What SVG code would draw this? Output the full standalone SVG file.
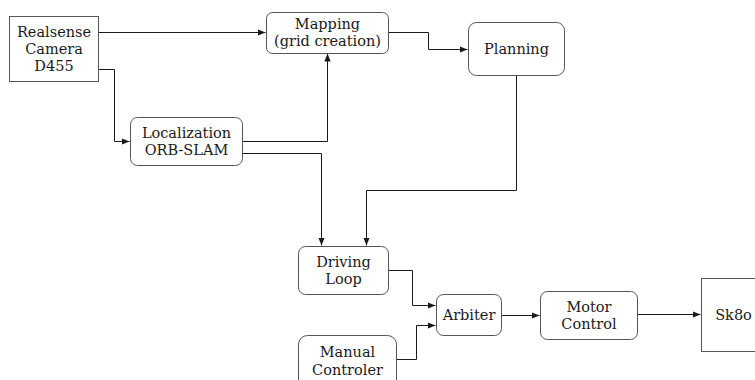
<svg xmlns="http://www.w3.org/2000/svg" width="755" height="380" viewBox="0 0 755 380">
<defs>
<style>
.box{fill:#fff;stroke:#555;stroke-width:1}
.t{font-family:"DejaVu Serif",serif;font-size:14.5px;fill:#1a1a1a;text-anchor:middle}
.c{fill:none;stroke:#1a1a1a;stroke-width:1}
</style>
<marker id="ah" viewBox="0 0 8 8" refX="8" refY="4" markerWidth="8" markerHeight="8" markerUnits="userSpaceOnUse" orient="auto">
<path d="M0,0.8 L8,4 L0,7.2 Z" fill="#1a1a1a"/>
</marker>
</defs>
<rect width="755" height="380" fill="#fff"/>
<g id="connectors">
<path class="c" d="M98.5,32.5 H265.5" marker-end="url(#ah)"/>
<path class="c" d="M98.5,69.5 H114.5 V141.5 H129.5" marker-end="url(#ah)"/>
<path class="c" d="M243,141.5 H327.5 V53.5" marker-end="url(#ah)"/>
<path class="c" d="M243,153.5 H321.5 V245.5" marker-end="url(#ah)"/>
<path class="c" d="M388.5,32.5 H428.5 V49.5 H467.5" marker-end="url(#ah)"/>
<path class="c" d="M516.5,75 V190.5 H366.5 V245.5" marker-end="url(#ah)"/>
<path class="c" d="M388.5,270.5 H412.5 V305.5 H435.5" marker-end="url(#ah)"/>
<path class="c" d="M396.5,359.5 H416.5 V325.5 H435.5" marker-end="url(#ah)"/>
<path class="c" d="M501.5,315.5 H539.5" marker-end="url(#ah)"/>
<path class="c" d="M637.5,314.5 H700.5" marker-end="url(#ah)"/>
</g>
<g id="realsense">
<rect class="box" x="9.5" y="16.5" width="89" height="65"/>
<text class="t" x="54" y="36.5">Realsense</text>
<text class="t" x="54" y="53.5">Camera</text>
<text class="t" x="54" y="70.5">D455</text>
</g>
<g id="mapping">
<rect class="box" x="266.5" y="12.5" width="122" height="41" rx="6"/>
<text class="t" x="327.5" y="28.5">Mapping</text>
<text class="t" x="327.5" y="45.5">(grid creation)</text>
</g>
<g id="localization">
<rect class="box" x="130.5" y="117.5" width="112" height="48" rx="7"/>
<text class="t" x="186.5" y="137.5">Localization</text>
<text class="t" x="186.5" y="154.5">ORB-SLAM</text>
</g>
<g id="planning">
<rect class="box" x="468.5" y="22.5" width="96" height="53" rx="8"/>
<text class="t" x="516.5" y="53.5">Planning</text>
</g>
<g id="driving">
<rect class="box" x="298.5" y="246.5" width="90" height="48" rx="7"/>
<text class="t" x="343.5" y="267">Driving</text>
<text class="t" x="343.5" y="284">Loop</text>
</g>
<g id="arbiter">
<rect class="box" x="436.5" y="294.5" width="65" height="41" rx="7"/>
<text class="t" x="469" y="320">Arbiter</text>
</g>
<g id="manual">
<rect class="box" x="298.5" y="335.5" width="98" height="60" rx="9"/>
<text class="t" x="347.5" y="357">Manual</text>
<text class="t" x="347.5" y="375">Controler</text>
</g>
<g id="motor">
<rect class="box" x="540.5" y="291.5" width="97" height="48" rx="7"/>
<text class="t" x="589" y="311.5">Motor</text>
<text class="t" x="589" y="328.5">Control</text>
</g>
<g id="sk8o">
<rect class="box" x="701.5" y="278.5" width="64" height="73"/>
<text class="t" x="733.5" y="320">Sk8o</text>
</g>
</svg>
